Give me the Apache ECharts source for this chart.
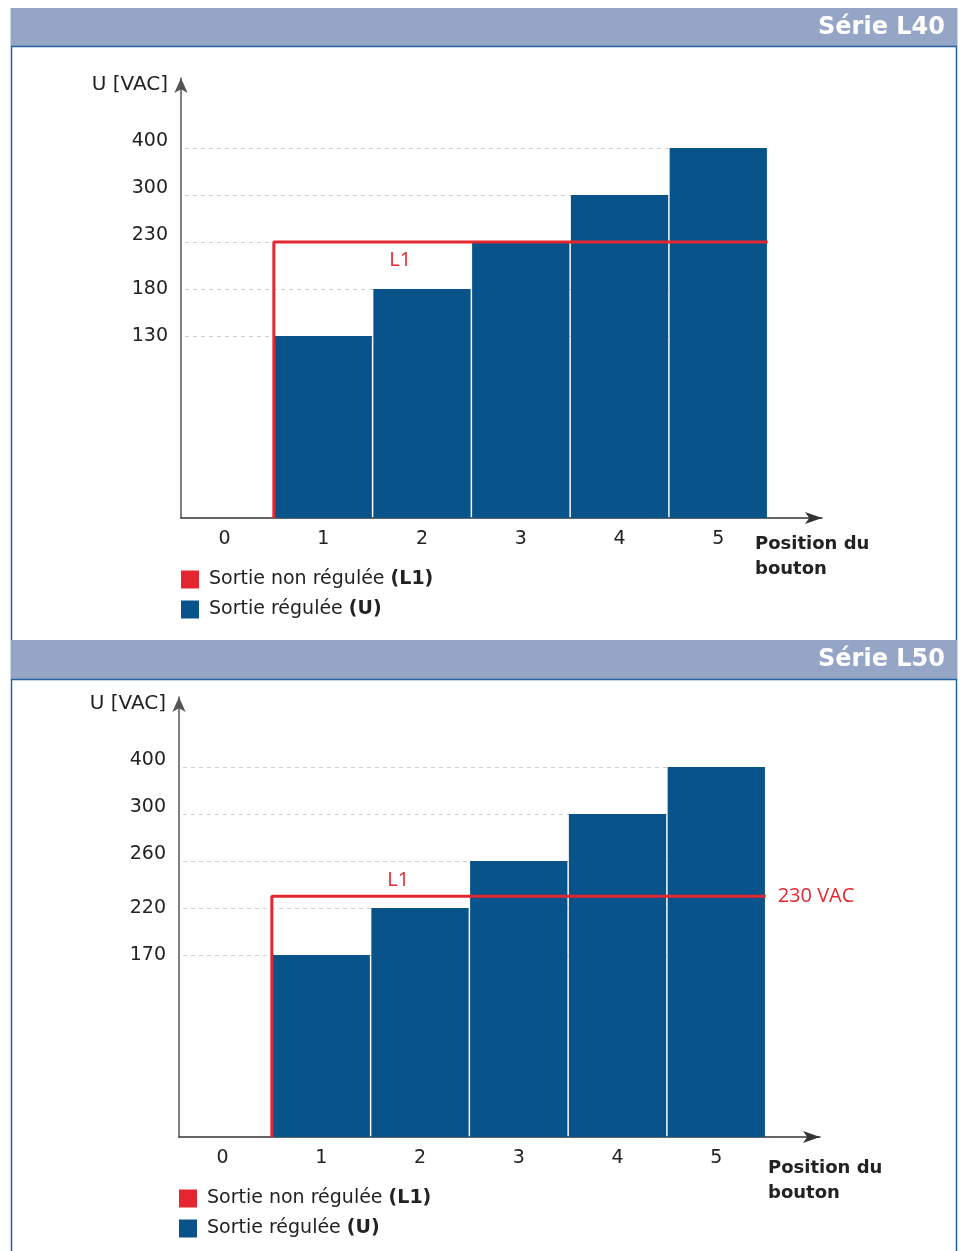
<!DOCTYPE html>
<html><head><meta charset="utf-8">
<script src="https://cdn.jsdelivr.net/npm/echarts@6/dist/echarts.min.js"></script>
<style>html,body{margin:0;padding:0;background:#fff}#c{width:962px;height:1251px}</style>
</head><body><div id="c"></div>
<script>
// ---- data ----
const positions = [0, 1, 2, 3, 4, 5];
const l40Ticks = [130, 180, 230, 300, 400];
const l40Values = [null, 130, 180, 230, 300, 400];
const l40L1 = 230;
const l50Ticks = [170, 220, 260, 300, 400];
const l50Values = [null, 170, 220, 260, 300, 400];
const l50L1 = 230;
const l50L1Label = '230 VAC';
const titles = ['Série L40', 'Série L50'];
const seriesNames = ['Sortie non régulée', 'Sortie régulée'];
const legendSuffix = ['(L1)', '(U)'];
const xName = 'Position du\nbouton';
const yName = 'U [VAC]';

// ---- styles ----
const FONT = 'DejaVu Sans';
const RED = '#e3262f';
const BLUE = '#08538a';
const HEAD = '#95a5c5';
const FRAME = '#2462a0';
const TXT = '#222222';
const FIRST = 3.87;      // display units spanned from 0 to the first tick level
const YMAX = 9.36;       // display units up to the axis arrow
const LABEL_LIFT = [false, false, true, true, true]; // upper tick labels sit slightly above their lines

// piecewise axis: the chart's y scale is not linear (equal spacing between tick levels)
function toDisplay(v, ticks) {
  if (v <= ticks[0]) return v / ticks[0] * FIRST;
  for (let i = 1; i < ticks.length; i++) {
    if (v <= ticks[i]) return FIRST + (i - 1) + (v - ticks[i - 1]) / (ticks[i] - ticks[i - 1]);
  }
  return FIRST + ticks.length - 1;
}

const panels = [
  { ticks: l40Ticks, values: l40Values, l1: l40L1, endLabel: null, baseline: 518, left: 181, l1Pos: 'bottom', xNamePos: [755, 532], yNamePos: [168, 85] },
  { ticks: l50Ticks, values: l50Values, l1: l50L1, endLabel: l50L1Label, baseline: 1137, left: 179, l1Pos: 'top', xNamePos: [768, 1156], yNamePos: [166, 704] }
];

const grid = [], xAxis = [], yAxis = [], series = [], legend = [];
panels.forEach((p, i) => {
  grid.push({ left: p.left, width: 641, top: p.baseline - 440, height: 440, containLabel: false });
  xAxis.push({
    type: 'value', gridIndex: i, min: -0.44, max: 6.05,
    axisLine: { show: true, onZero: false, symbol: ['none', 'arrow'], symbolSize: [9, 17], lineStyle: { color: '#333', width: 1.5 } },
    axisTick: { show: false },
    splitLine: { show: false },
    axisLabel: { customValues: positions, margin: 12, color: TXT, fontFamily: FONT, fontSize: 19, formatter: v => String(Math.round(v)) }
  });
  const tickDisp = p.ticks.map(t => toDisplay(t, p.ticks));
  yAxis.push({
    type: 'value', gridIndex: i, min: 0, max: YMAX,
    axisLine: { show: true, onZero: false, symbol: ['none', 'arrow'], symbolSize: [10, 15], lineStyle: { color: '#555', width: 1.5 } },
    axisTick: { show: false },
    splitLine: { show: false },
    axisLabel: {
      customValues: tickDisp, margin: 13, color: TXT, fontFamily: FONT, fontSize: 19,
      formatter: v => {
        let k = 0;
        tickDisp.forEach((d, j) => { if (Math.abs(d - v) < Math.abs(tickDisp[k] - v)) k = j; });
        return (LABEL_LIFT[k] ? '{u|' : '{n|') + p.ticks[k] + '}';
      },
      rich: {
        n: { color: TXT, fontFamily: FONT, fontSize: 19 },
        u: { color: TXT, fontFamily: FONT, fontSize: 19, padding: [0, 0, 14, 0] }
      }
    }
  });
  const barData = [];
  positions.forEach((x, j) => { if (p.values[j] != null) barData.push([x, toDisplay(p.values[j], p.ticks)]); });
  series.push({
    name: seriesNames[1], type: 'bar', xAxisIndex: i, yAxisIndex: i, z: 2,
    barWidth: 97.3, data: barData, itemStyle: { color: BLUE },
    markLine: {
      silent: true, z: 1, symbol: ['none', 'none'], label: { show: false },
      lineStyle: { type: [4, 4], color: '#cfcfcf', width: 1 },
      data: tickDisp.map(d => [{ coord: [-0.4, d] }, { coord: [5.5, d] }])
    }
  });
  const l1d = toDisplay(p.l1, p.ticks);
  const mp = [{
    coord: [1.78, l1d], symbol: 'circle', symbolSize: 0,
    label: { show: true, formatter: 'L1', position: p.l1Pos, distance: p.l1Pos === 'bottom' ? 8 : 6, color: RED, fontFamily: 'Open Sans', fontSize: 20 }
  }];
  if (p.endLabel) mp.push({
    coord: [5.5, l1d], symbol: 'circle', symbolSize: 0,
    label: { show: true, formatter: p.endLabel, position: 'right', distance: 12, color: RED, fontFamily: 'Open Sans', fontSize: 20 }
  });
  series.push({
    name: seriesNames[0], type: 'line', xAxisIndex: i, yAxisIndex: i, z: 3,
    data: [[0.5, 0], [0.5, l1d], [5.5, l1d]],
    symbol: 'none', lineStyle: { color: RED, width: 3 }, itemStyle: { color: RED },
    markPoint: { silent: true, data: mp }
  });
  legend.push({
    orient: 'vertical', left: p.left, top: p.baseline + 52, padding: 0, itemWidth: 18, itemHeight: 18, itemGap: 11,
    icon: 'rect', selectedMode: false, data: seriesNames,
    formatter: n => '{n|' + n + ' }{b|' + legendSuffix[seriesNames.indexOf(n)] + '}',
    textStyle: {
      color: TXT, fontFamily: FONT, fontSize: 19, lineHeight: 19,
      rich: { n: { color: TXT, fontFamily: FONT, fontSize: 19, lineHeight: 19, padding: [0, 0, 0, 5] },
              b: { color: TXT, fontFamily: FONT, fontSize: 19, lineHeight: 19, fontWeight: 'bold' } }
    }
  });
});

const graphic = [
  // frame lines
  { type: 'line', z: -1, shape: { x1: 11.5, y1: 8, x2: 11.5, y2: 1251 }, style: { stroke: FRAME, lineWidth: 1.5 } },
  { type: 'line', z: -1, shape: { x1: 956.5, y1: 8, x2: 956.5, y2: 1251 }, style: { stroke: FRAME, lineWidth: 1.5 } },
  // headers
  { type: 'rect', z: -1, shape: { x: 11, y: 8, width: 946, height: 38 }, style: { fill: HEAD } },
  { type: 'line', z: -1, shape: { x1: 11, y1: 46.5, x2: 957, y2: 46.5 }, style: { stroke: FRAME, lineWidth: 1.5 } },
  { type: 'rect', z: -1, shape: { x: 11, y: 640, width: 946, height: 39 }, style: { fill: HEAD } },
  { type: 'line', z: -1, shape: { x1: 11, y1: 679.5, x2: 957, y2: 679.5 }, style: { stroke: FRAME, lineWidth: 1.5 } },
  { type: 'text', x: 945, y: 28, style: { text: titles[0], fill: '#fff', font: 'bold 24px "DejaVu Sans"', textAlign: 'right', textVerticalAlign: 'middle' } },
  { type: 'text', x: 945, y: 660, style: { text: titles[1], fill: '#fff', font: 'bold 24px "DejaVu Sans"', textAlign: 'right', textVerticalAlign: 'middle' } }
];
panels.forEach(p => {
  graphic.push({ type: 'text', x: p.xNamePos[0], y: p.xNamePos[1], style: { text: xName, fill: TXT, font: 'bold 18px "DejaVu Sans"', lineHeight: 25, textAlign: 'left', textVerticalAlign: 'top' } });
  graphic.push({ type: 'text', x: p.yNamePos[0], y: p.yNamePos[1], style: { text: yName, fill: TXT, font: '20px "DejaVu Sans"', textAlign: 'right', textVerticalAlign: 'middle' } });
});

const chart = echarts.init(document.getElementById('c'), null, { renderer: 'canvas' });
chart.setOption({ animation: false, backgroundColor: '#fff', grid, xAxis, yAxis, series, legend, graphic });
</script></body></html>
